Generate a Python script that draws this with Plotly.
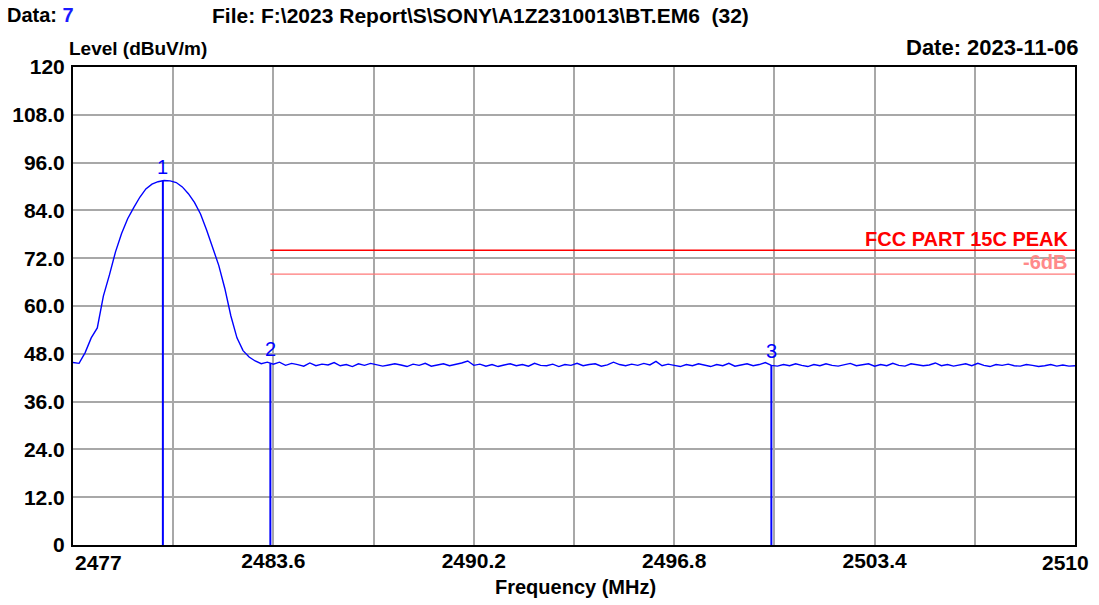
import plotly.graph_objects as go

# ---------------- data ----------------
sweep_start = 2477.0      # MHz
sweep_step = 0.2          # MHz
level_dbuv = [
    45.8, 45.6, 48.3, 52.0, 54.5, 62.5, 67.8, 73.6, 78.2, 81.9,
    84.7, 87.3, 89.4, 90.6, 91.2, 91.5, 91.4, 91.0, 89.9, 88.2,
    86.0, 83.1, 79.1, 74.6, 70.2, 64.4, 57.5, 52.0, 48.8, 47.2,
    46.2, 45.5, 45.9,
    45.4, 45.9, 45.1, 45.6, 45.3, 44.9, 45.7, 45.0, 45.4, 45.2,
    45.8, 45.0, 45.3, 44.8, 45.5, 45.1, 45.6, 45.3, 44.9, 45.2,
    45.5, 45.2, 44.8, 45.4, 45.1, 45.6, 44.9, 45.2, 45.5, 45.0,
    45.3, 45.7, 46.2, 45.1, 45.4, 44.9, 45.3, 44.8, 45.2, 45.5,
    45.0, 45.3, 44.9, 45.6, 45.1, 45.0, 45.4, 44.8, 45.3, 45.1,
    45.6, 45.0, 45.3, 45.5, 44.9, 45.2, 45.9, 45.3, 45.0, 45.4,
    45.1, 45.6, 45.2, 46.1, 45.0, 45.4, 45.1, 44.8, 45.3, 45.0,
    45.5, 45.1, 44.8, 45.3, 45.0, 45.6, 44.9, 45.2, 45.5, 45.0,
    45.3, 45.8, 45.1, 44.9, 45.3, 45.0, 45.5, 45.1, 44.8, 45.3,
    45.0, 45.5, 45.1, 44.9, 45.3, 45.6, 45.0, 45.2, 45.5, 44.9,
    45.3, 45.0, 45.6, 45.1, 44.9, 45.5, 45.2, 45.0, 45.2, 45.7,
    45.0, 45.3, 44.9, 45.2, 45.5, 45.0, 45.6, 45.1, 44.8, 45.3,
    45.1, 45.4, 45.0, 44.9, 45.3, 45.1, 44.8, 45.0, 45.3, 44.9,
    45.2, 44.9, 45.0,
]
freq_mhz = [round(sweep_start + sweep_step * i, 2) for i in range(len(level_dbuv))]

marker_ids = ["1", "2", "3"]
marker_freq = [2479.96, 2483.5, 2500.0]
marker_level = [91.5, 45.6, 45.2]

limit_start = 2483.5
limit_end = 2510.0
limit_peak = 74.0
limit_margin = 68.0
limit_names = ["FCC PART 15C PEAK", "-6dB"]

x_min, x_max = 2477, 2510
x_grid = [2477, 2480.3, 2483.6, 2486.9, 2490.2, 2493.5, 2496.8, 2500.1, 2503.4, 2506.7, 2510]
x_labels = ["2477", "", "2483.6", "", "2490.2", "", "2496.8", "", "2503.4", "", "2510"]
y_grid = [0, 12, 24, 36, 48, 60, 72, 84, 96, 108, 120]
y_labels = ["0", "12.0", "24.0", "36.0", "48.0", "60.0", "72.0", "84.0", "96.0", "108.0", "120"]

header_data = "7"
header_file = "File: F:\\2023 Report\\S\\SONY\\A1Z2310013\\BT.EM6  (32)"
header_date = "Date: 2023-11-06"
x_title = "Frequency (MHz)"
y_title = "Level (dBuV/m)"

# ---------------- figure ----------------
FONT = "Liberation Sans, Arial, sans-serif"
BLUE = "#0000ff"
L, R, T, B = 73, 24, 67, 60
PW, PH = 1099 - L - R, 605 - T - B


def px(xp):
    return (xp - L) / PW


def py(yp):
    return (605 - B - yp) / PH


fig = go.Figure()

# limit lines
fig.add_trace(go.Scatter(x=[limit_start, limit_end], y=[limit_peak, limit_peak], mode="lines",
                         line=dict(color="#ff0000", width=1.6), hoverinfo="skip"))
fig.add_trace(go.Scatter(x=[limit_start, limit_end], y=[limit_margin, limit_margin], mode="lines",
                         line=dict(color="#ff7878", width=1.4), hoverinfo="skip"))

# marker vertical lines
for mf, ml in zip(marker_freq, marker_level):
    fig.add_trace(go.Scatter(x=[mf, mf], y=[0, ml], mode="lines",
                             line=dict(color=BLUE, width=2), hoverinfo="skip"))

# trace
fig.add_trace(go.Scatter(x=freq_mhz, y=level_dbuv, mode="lines",
                         line=dict(color=BLUE, width=1.4)))

# marker numbers
for mid, mf, ml in zip(marker_ids, marker_freq, marker_level):
    fig.add_annotation(x=mf, y=ml, text=mid, showarrow=False, yanchor="bottom",
                       yshift=1, font=dict(family=FONT, size=20, color=BLUE))

# limit labels
fig.add_annotation(x=limit_end, y=limit_peak, text="<b>%s</b>" % limit_names[0], showarrow=False,
                   xanchor="right", yanchor="bottom", xshift=-4, yshift=-2,
                   font=dict(family=FONT, size=20, color="#ff0000"))
fig.add_annotation(x=limit_end, y=limit_peak, text="<b>%s</b>" % limit_names[1], showarrow=False,
                   xanchor="right", yanchor="top", xshift=-6, yshift=1,
                   font=dict(family=FONT, size=20, color="#ff8a8a"))

# first / last x tick labels (placed inside the axis span like the original)
fig.add_annotation(xref="x", yref="paper", x=x_min, y=py(562), text="<b>%s</b>" % x_labels[0],
                   showarrow=False, xanchor="left", yanchor="middle", xshift=0,
                   font=dict(family=FONT, size=21, color="black"))
fig.add_annotation(xref="x", yref="paper", x=x_max, y=py(562), text="<b>%s</b>" % x_labels[-1],
                   showarrow=False, xanchor="right", yanchor="middle", xshift=16,
                   font=dict(family=FONT, size=21, color="black"))

# axis titles
fig.add_annotation(xref="paper", yref="paper", x=px(575), y=py(587),
                   text="<b>%s</b>" % x_title, showarrow=False, xanchor="center", yanchor="middle",
                   font=dict(family=FONT, size=20, color="black"))
fig.add_annotation(xref="paper", yref="paper", x=px(67), y=py(49),
                   text="<b>%s</b>" % y_title, showarrow=False, xanchor="left", yanchor="middle",
                   font=dict(family=FONT, size=19, color="black"))

# header texts
fig.add_annotation(xref="paper", yref="paper", x=px(5), y=py(15),
                   text="<b>Data: <span style='color:#1a1aff'>%s</span></b>" % header_data,
                   showarrow=False, xanchor="left", yanchor="middle",
                   font=dict(family=FONT, size=20, color="black"))
fig.add_annotation(xref="paper", yref="paper", x=px(210), y=py(15),
                   text="<b>%s</b>" % header_file, showarrow=False, xanchor="left", yanchor="middle",
                   font=dict(family=FONT, size=21, color="black"))
fig.add_annotation(xref="paper", yref="paper", x=px(1080), y=py(48),
                   text="<b>%s</b>" % header_date, showarrow=False, xanchor="right", yanchor="middle",
                   font=dict(family=FONT, size=22, color="black"))

mid_text = ["" if i in (0, len(x_labels) - 1) else "<b>%s</b>" % t for i, t in enumerate(x_labels)]

fig.update_layout(
    width=1099, height=605,
    margin=dict(l=L, r=R, t=T, b=B),
    paper_bgcolor="white", plot_bgcolor="white",
    showlegend=False,
    font=dict(family=FONT, size=20, color="black"),
    xaxis=dict(
        range=[x_min, x_max], tickmode="array", tickvals=x_grid, ticktext=mid_text,
        showgrid=True, gridcolor="#a8a8a8", gridwidth=2, zeroline=False,
        showline=True, linecolor="black", linewidth=2, mirror=True, automargin=False,
        ticks="", ticklabelstandoff=-4, tickfont=dict(family=FONT, size=21, color="black"),
    ),
    yaxis=dict(
        range=[0, 120], tickmode="array", tickvals=y_grid, ticktext=["<b>%s</b>" % t for t in y_labels],
        showgrid=True, gridcolor="#a8a8a8", gridwidth=2, zeroline=False,
        showline=True, linecolor="black", linewidth=2, mirror=True, automargin=False,
        ticks="", ticklabelstandoff=2, tickfont=dict(family=FONT, size=21, color="black"),
    ),
)

fig.write_html("out.html", config={"displayModeBar": False},
               post_script="document.body.style.margin='0';document.body.style.overflow='hidden';")
